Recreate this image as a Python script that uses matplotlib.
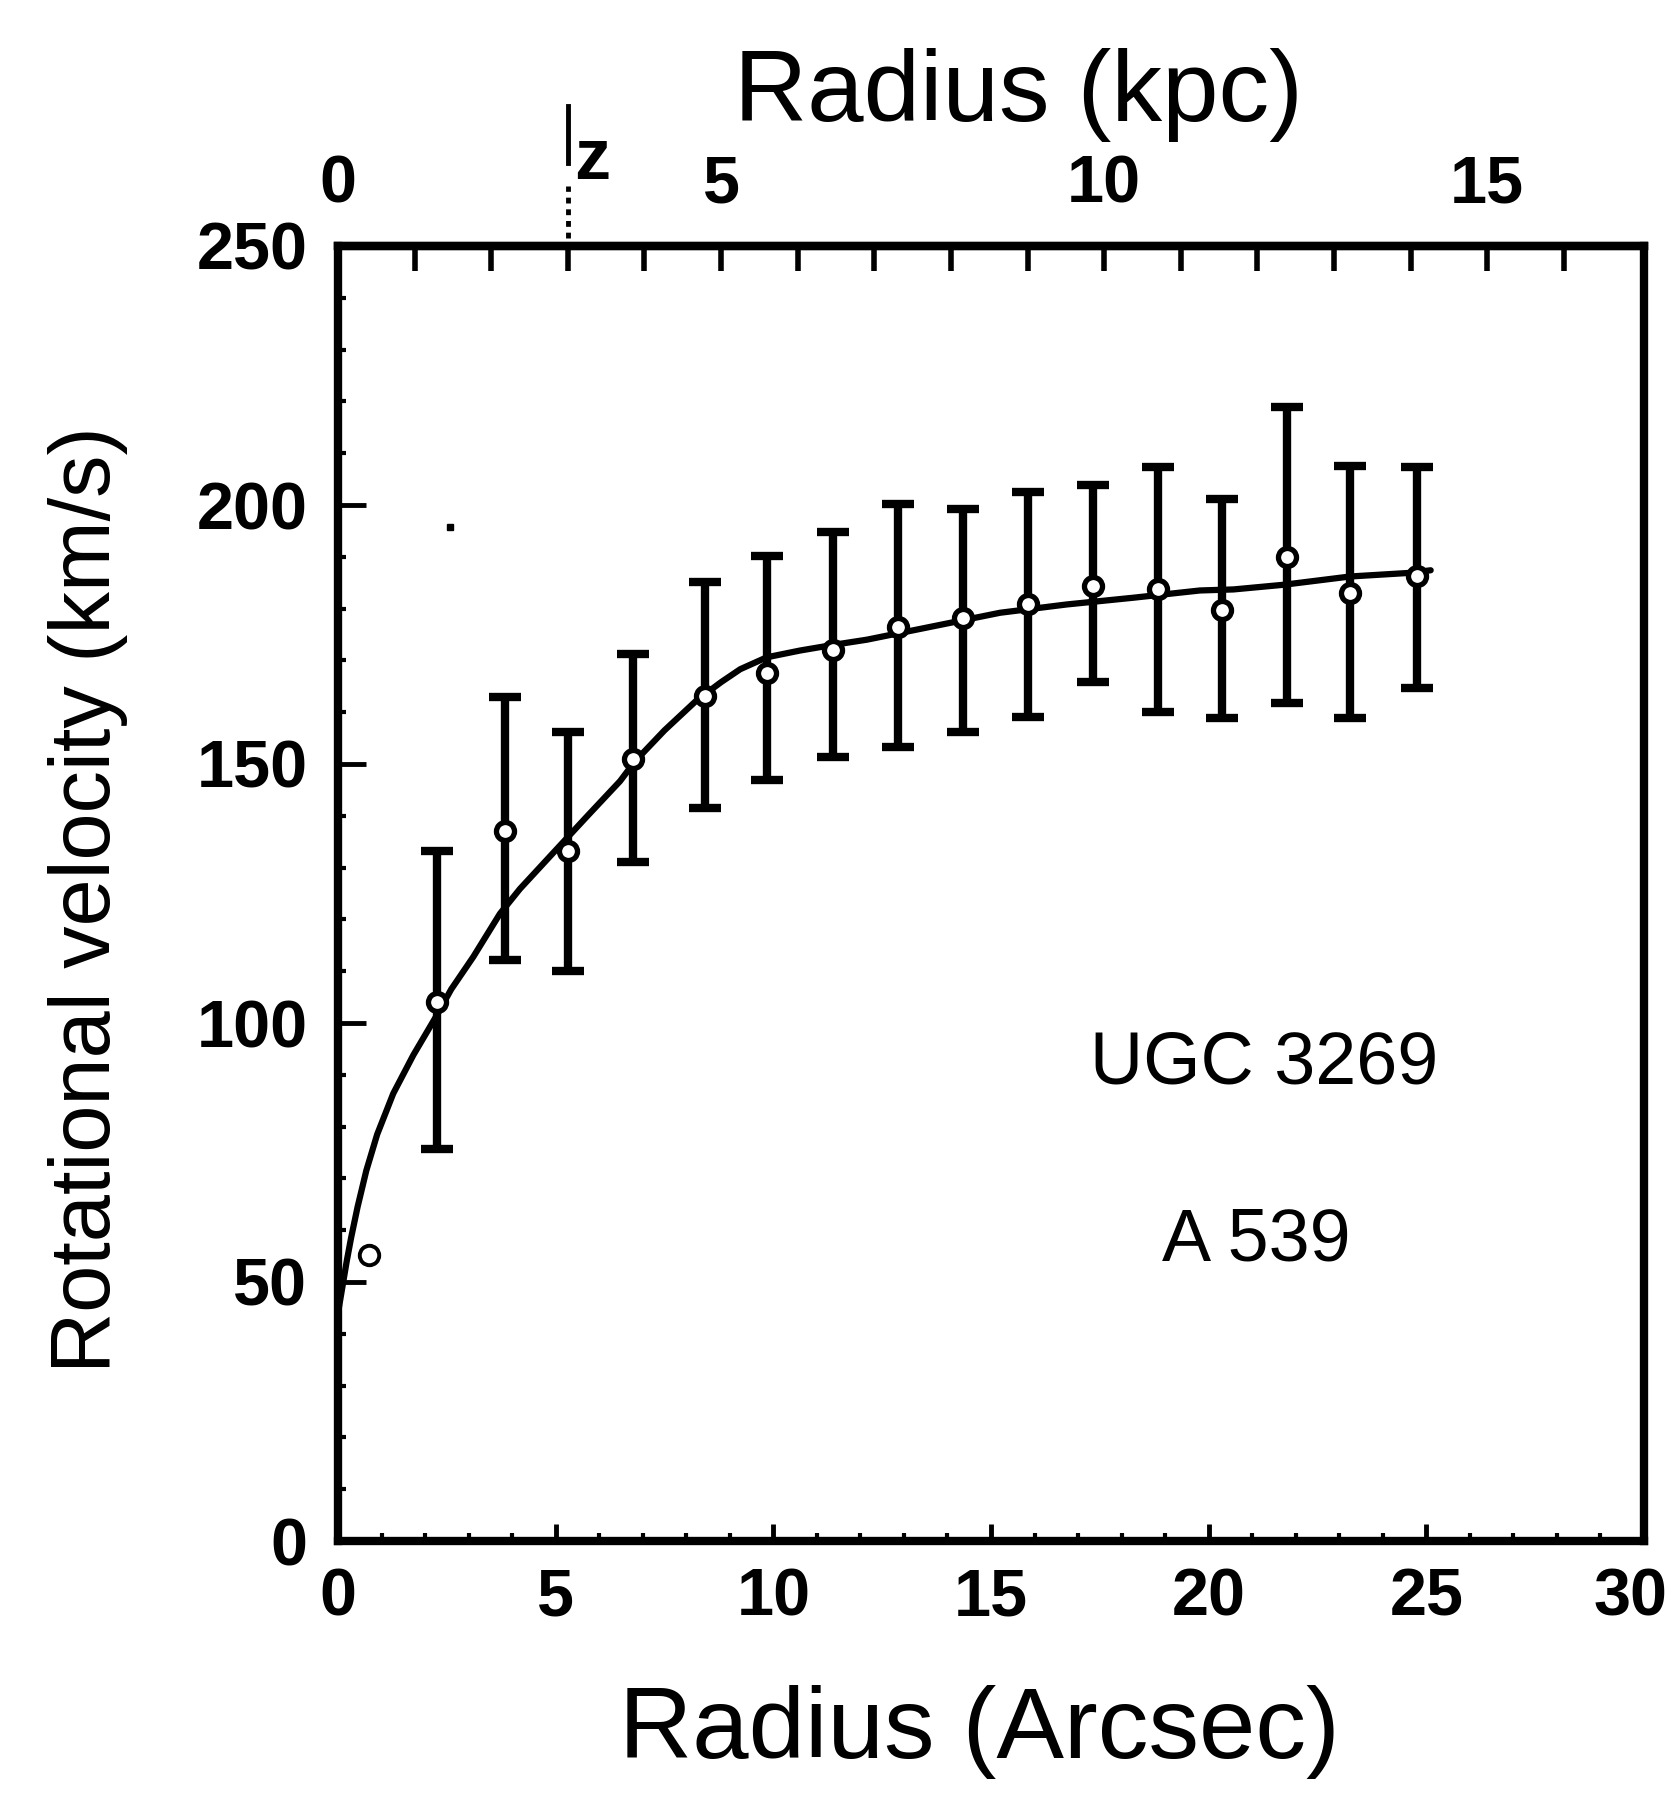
import os
import numpy as np
import matplotlib
matplotlib.use("Agg")
import matplotlib.pyplot as plt
from matplotlib import font_manager
from matplotlib.font_manager import FontProperties
from matplotlib.transforms import ScaledTranslation
from matplotlib.ticker import FixedLocator, MultipleLocator, NullFormatter, FixedFormatter

# ---------------- data ----------------
r_arcsec = [0.72, 2.27, 3.84, 5.29, 6.78, 8.43, 9.85, 11.38, 12.86, 14.36,
            15.85, 17.34, 18.84, 20.31, 21.80, 23.25, 24.79]
v_kms = [55.3, 104.1, 137.0, 133.2, 150.9, 163.1, 167.6, 172.1, 176.5, 178.2,
         180.8, 184.3, 183.8, 179.8, 190.0, 183.1, 186.2]
v_low = [np.nan, 75.7, 112.1, 110.0, 131.1, 141.6, 146.9, 151.3, 153.3, 156.2,
         159.1, 165.8, 160.0, 158.9, 161.8, 158.9, 164.7]
v_high = [np.nan, 133.2, 162.9, 156.2, 171.3, 185.1, 190.2, 194.7, 200.2, 199.2,
          202.5, 203.8, 207.3, 201.2, 219.0, 207.6, 207.3]

curve_r = [0.0, 0.1, 0.2, 0.3, 0.45, 0.65, 0.9, 1.27, 1.73, 2.27, 2.6, 3.11, 3.72,
           4.18, 4.95, 5.71, 6.48, 6.82, 7.5, 8.24, 8.8, 9.24, 9.85, 10.61, 11.38,
           12.15, 13.68, 15.21, 16.74, 18.27, 19.8, 20.57, 21.72, 23.25, 24.63, 25.1]
curve_v = [44.0, 49.0, 54.0, 58.5, 64.5, 71.5, 78.5, 86.4, 93.8, 101.5, 106.5, 112.8,
           121.1, 125.9, 132.9, 139.8, 146.7, 150.5, 156.5, 162.3, 165.8, 168.3,
           170.6, 171.9, 173.0, 174.0, 176.6, 179.2, 180.8, 182.1, 183.5, 183.7,
           184.6, 186.2, 186.9, 187.4]

x_ticks = [0, 5, 10, 15, 20, 25, 30]
y_ticks = [0, 50, 100, 150, 200, 250]
ARCSEC_PER_KPC = 1.76
kpc_major = [0, 5, 10, 15]
kpc_minor = [1, 2, 3, 4, 6, 7, 8, 9, 11, 12, 13, 14, 16]
z_kpc = 3.0

label_galaxy = "UGC 3269"
label_cluster = "A 539"
speck_r, speck_v = [2.57], [195.8]

# ---------------- fonts ----------------
nb = nr = None
for f in font_manager.fontManager.ttflist:
    b = os.path.basename(f.fname)
    if "LiberationSansNarrow" in b and "Italic" not in b:
        if "Bold" in b:
            nb = f.fname
        else:
            nr = f.fname

if nb:
    tick_fp = FontProperties(fname=nb, size=58)
else:
    tick_fp = FontProperties(family="Liberation Sans", weight="bold", size=48)
if nr:
    ylab_fp = FontProperties(fname=nr, size=73)
else:
    ylab_fp = FontProperties(family="Liberation Sans", size=61)
REG = "Liberation Sans"

# ---------------- figure ----------------
fig = plt.figure(figsize=(16.75, 17.96), dpi=100)
ax = fig.add_axes([338 / 1675, 1 - 1541 / 1796, (1644 - 338) / 1675, (1541 - 246) / 1796])

ax.plot(curve_r, curve_v, color="black", lw=4.5, zorder=2, solid_capstyle="round")

r = np.array(r_arcsec)
v = np.array(v_kms)
lo = np.array(v_low)
hi = np.array(v_high)
m = ~np.isnan(lo)
ax.errorbar(r[m], v[m], yerr=[v[m] - lo[m], hi[m] - v[m]], fmt="none",
            ecolor="black", elinewidth=6, capsize=11.5, capthick=6, zorder=3)
ax.plot(r[m], v[m], "o", ms=13, mfc="white", mec="black", mew=3.8, zorder=4)
ax.plot(r[~m], v[~m], "o", ms=14, mfc="white", mec="black", mew=2.8, zorder=4)
ax.plot(speck_r, speck_v, "s", ms=5, color="black", zorder=4)

ax.set_xlim(0, 30)
ax.set_ylim(0, 250)

for s in ax.spines.values():
    s.set_linewidth(6)
    s.set_color("black")

ax.xaxis.set_major_locator(FixedLocator(x_ticks))
ax.xaxis.set_major_formatter(FixedFormatter([str(t) for t in x_ticks]))
ax.xaxis.set_minor_locator(MultipleLocator(1))
ax.yaxis.set_major_locator(FixedLocator(y_ticks))
ax.yaxis.set_major_formatter(FixedFormatter([str(t) for t in y_ticks]))
ax.yaxis.set_minor_locator(MultipleLocator(10))
ax.tick_params(axis="x", which="major", direction="in", length=12, width=3.5,
               top=False, bottom=True, pad=19)
ax.tick_params(axis="x", which="minor", direction="in", length=6, width=3,
               top=False, bottom=True)
ax.tick_params(axis="y", which="major", direction="in", length=20, width=3.5,
               right=False, left=True, pad=22)
ax.tick_params(axis="y", which="minor", direction="in", length=6, width=3,
               right=False, left=True)

# top (kpc) axis
sec = ax.secondary_xaxis("top", functions=(lambda a: a / ARCSEC_PER_KPC,
                                           lambda k: k * ARCSEC_PER_KPC))
sec.xaxis.set_major_locator(FixedLocator(kpc_major))
sec.xaxis.set_major_formatter(FixedFormatter([str(k) for k in kpc_major]))
sec.xaxis.set_minor_locator(FixedLocator(kpc_minor))
sec.xaxis.set_minor_formatter(NullFormatter())
sec.tick_params(axis="x", which="both", direction="in", length=18, width=4, pad=21)
sec.spines["top"].set_linewidth(6)

# "z" marker above the top axis
zx = z_kpc * ARCSEC_PER_KPC
ax.plot([zx, zx], [251.5, 261.5], color="black", lw=3.5, ls=(0, (1.2, 1.2)),
        clip_on=False, zorder=5)
ax.plot([zx, zx], [266.0, 277.0], color="black", lw=3.5, clip_on=False, zorder=5)
ax.text(zx + 0.55, 266.6, "z", fontsize=52, fontfamily=REG, fontweight="bold",
        ha="center", va="center", clip_on=False)

# in-plot labels
ax.text(21.27, 92.0, label_galaxy, fontsize=53, fontfamily=REG, ha="center", va="center")
ax.text(21.1, 57.9, label_cluster, fontsize=53, fontfamily=REG, ha="center", va="center")

# axis titles
fig.text(0.585, 0.0356, "Radius (Arcsec)", fontsize=73, fontfamily=REG,
         ha="center", va="center")
fig.text(0.608, 0.947, "Radius (kpc)", fontsize=73, fontfamily=REG,
         ha="center", va="center")
fig.text(0.0525, 0.499, "Rotational velocity (km/s)", fontproperties=ylab_fp,
         rotation=90, ha="center", va="center")

# create the ticks, then style the labels and keep "30" inside the canvas
fig.canvas.draw()
for t in ax.xaxis.get_major_ticks() + ax.yaxis.get_major_ticks() + sec.xaxis.get_major_ticks():
    t.label1.set_fontproperties(tick_fp)
    t.label2.set_fontproperties(tick_fp)
for t in ax.xaxis.get_major_ticks():
    if t.get_loc() == 30:
        t.label1.set_transform(t.label1.get_transform() +
                               ScaledTranslation(-10 / 72, 0, fig.dpi_scale_trans))

fig.savefig("out.png", dpi=100, facecolor="white")
